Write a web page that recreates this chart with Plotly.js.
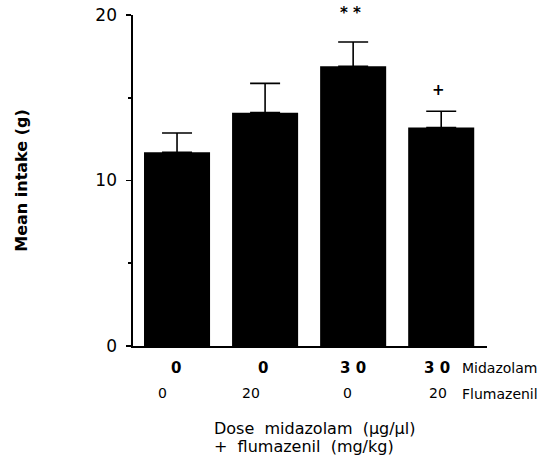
<!DOCTYPE html>
<html>
<head>
<meta charset="utf-8">
<script src="https://cdn.plot.ly/plotly-3.0.1.min.js"></script>
<style>html,body{margin:0;padding:0;background:#fff;}#chart{width:542px;height:455px;}</style>
</head>
<body>
<div id="chart"></div>
<script>
// Data
var groups = [0, 1, 2, 3];
var midazolamDose = ['0', '0', '3 0', '3 0'];
var flumazenilDose = ['0', '20', '0', '20'];
var meanIntake = [11.7, 14.1, 16.9, 13.2];
var semIntake = [1.17, 1.77, 1.47, 0.98];
var significance = ['', '', '* *', '+'];
var yTickVals = [0, 10, 20];
var yTickText = ['0', '10', '20'];

// Styling (pixel offsets of the printed labels)
var row1Shift = [-1, -2, 0, -4];
var row2Shift = [-15, -14, -6, -3];

var FONT = '"DejaVu Sans", "Liberation Sans", Arial, sans-serif';

var trace = {
  type: 'bar',
  x: groups,
  y: meanIntake,
  width: 0.75,
  marker: {color: '#000', line: {width: 0}},
  error_y: {
    type: 'data', symmetric: false, array: semIntake,
    arrayminus: semIntake.map(function(){return 0;}),
    color: '#000', thickness: 1.6, width: 15
  },
  hoverinfo: 'none'
};

var annotations = [];
var sigShift = {'* *': 29, '+': 21};
groups.forEach(function(g, i) {
  annotations.push({x: g, y: 0, xref: 'x', yref: 'paper', text: midazolamDose[i],
    showarrow: false, yshift: -22, xshift: row1Shift[i], yanchor: 'middle',
    font: {family: FONT, size: 15, color: '#000', weight: 'bold'}});
  annotations.push({x: g, y: 0, xref: 'x', yref: 'paper', text: flumazenilDose[i],
    showarrow: false, yshift: -47, xshift: row2Shift[i], yanchor: 'middle',
    font: {family: FONT, size: 14, color: '#000'}});
  if (significance[i]) {
    annotations.push({x: g, y: meanIntake[i] + semIntake[i], xref: 'x', yref: 'y',
      text: significance[i], showarrow: false, yshift: sigShift[significance[i]],
      xshift: -3, yanchor: 'middle',
      font: {family: FONT, size: 15, color: '#000', weight: 'bold'}});
  }
});
annotations.push({x: 1, xref: 'paper', y: 0, yref: 'paper', text: 'Midazolam',
  showarrow: false, xanchor: 'left', yanchor: 'middle', yshift: -22, xshift: -27,
  font: {family: FONT, size: 14, color: '#000'}});
annotations.push({x: 1, xref: 'paper', y: 0, yref: 'paper', text: 'Flumazenil',
  showarrow: false, xanchor: 'left', yanchor: 'middle', yshift: -48, xshift: -27,
  font: {family: FONT, size: 14, color: '#000'}});
annotations.push({x: 0.223, xref: 'paper', y: 0, yref: 'paper',
  text: 'Dose  midazolam  (µg/µl)',
  showarrow: false, xanchor: 'left', yanchor: 'middle', yshift: -82,
  font: {family: FONT, size: 16, color: '#000'}});
annotations.push({x: 0.223, xref: 'paper', y: 0, yref: 'paper',
  text: '+  flumazenil  (mg/kg)',
  showarrow: false, xanchor: 'left', yanchor: 'middle', yshift: -100,
  font: {family: FONT, size: 16, color: '#000'}});

var layout = {
  width: 542, height: 455,
  margin: {l: 133, r: 55, t: 15, b: 109},
  paper_bgcolor: '#fff', plot_bgcolor: '#fff',
  showlegend: false,
  font: {family: FONT, color: '#000'},
  xaxis: {
    range: [-0.5, 3.52], showticklabels: false, ticks: '', showgrid: false,
    zeroline: false, showline: true, linecolor: '#000', linewidth: 1.6, fixedrange: true
  },
  yaxis: {
    range: [0, 20], tickvals: yTickVals, ticktext: yTickText,
    ticks: 'outside', ticklen: 5, tickwidth: 1.6, tickcolor: '#000',
    minor: {dtick: 5, ticks: 'outside', ticklen: 3, tickwidth: 1.6, tickcolor: '#000'},
    showgrid: false, zeroline: false, showline: true, linecolor: '#000', linewidth: 1.6,
    ticklabelstandoff: 6,
    tickfont: {family: FONT, size: 17, color: '#000'},
    title: {text: 'Mean intake (g)', standoff: 64,
      font: {family: FONT, size: 16, color: '#000', weight: 'bold'}},
    fixedrange: true
  },
  annotations: annotations
};

Plotly.newPlot('chart', [trace], layout, {displayModeBar: false, staticPlot: true});
</script>
</body>
</html>
